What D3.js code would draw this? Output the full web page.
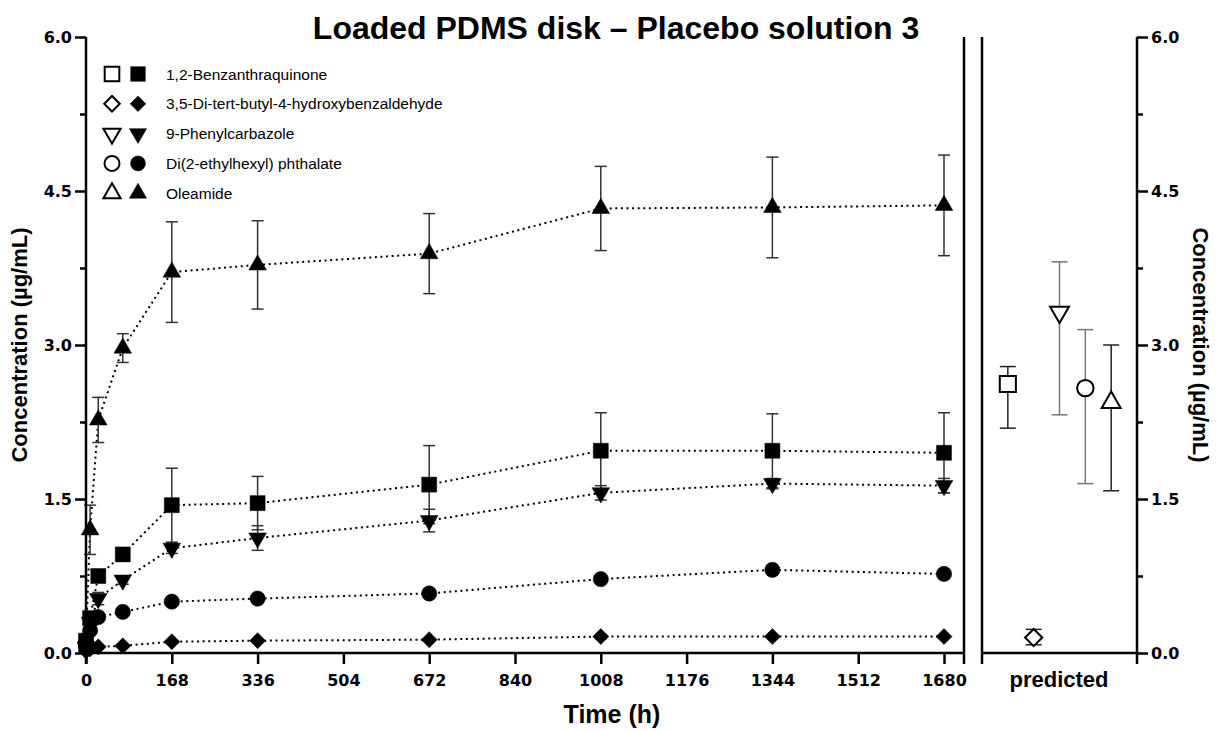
<!DOCTYPE html>
<html>
<head>
<meta charset="utf-8">
<script src="https://cdn.jsdelivr.net/npm/d3@7"></script>
<style>
  html, body { margin: 0; padding: 0; background: #fff; }
  svg { display: block; font-family: "Liberation Sans", Arial, sans-serif; }
</style>
</head>
<body>
<svg id="chart" width="1218" height="731"></svg>
<script>
// Release of migrants from a loaded PDMS disk into placebo solution 3
const times = [0, 8, 24, 72, 168, 336, 672, 1008, 1344, 1680];
const xTicks = [0, 168, 336, 504, 672, 840, 1008, 1176, 1344, 1512, 1680];
const yTicks = [0, 1.5, 3.0, 4.5, 6.0];
const yMinorTicks = [0.75, 2.25, 3.75, 5.25];

const compounds = [
  "1,2-Benzanthraquinone",
  "3,5-Di-tert-butyl-4-hydroxybenzaldehyde",
  "9-Phenylcarbazole",
  "Di(2-ethylhexyl) phthalate",
  "Oleamide"
];
const symbols = ["square", "diamond", "down", "circle", "up"];

// measured concentration (µg/mL), mean and SD per sampling time
const benzMean = [0.12, 0.34, 0.75, 0.96, 1.44, 1.46, 1.64, 1.97, 1.97, 1.95];
const benzSd   = [0.02, 0.05, 0.04, 0.05, 0.36, 0.26, 0.38, 0.37, 0.36, 0.39];
const dtbMean  = [0.02, 0.04, 0.06, 0.07, 0.11, 0.12, 0.13, 0.16, 0.16, 0.16];
const dtbSd    = [0.01, 0.01, 0.01, 0.01, 0.01, 0.01, 0.01, 0.02, 0.01, 0.01];
const pcMean   = [0.05, 0.30, 0.53, 0.71, 1.02, 1.12, 1.29, 1.56, 1.65, 1.63];
const pcSd     = [0.01, 0.04, 0.06, 0.04, 0.05, 0.12, 0.11, 0.07, 0.05, 0.07];
const dehpMean = [0.05, 0.22, 0.35, 0.40, 0.50, 0.53, 0.58, 0.72, 0.81, 0.77];
const dehpSd   = [0.01, 0.02, 0.02, 0.02, 0.02, 0.02, 0.02, 0.03, 0.02, 0.02];
const oleMean  = [0.15, 1.20, 2.27, 2.97, 3.71, 3.78, 3.89, 4.33, 4.34, 4.36];
const oleSd    = [0.03, 0.24, 0.22, 0.14, 0.49, 0.43, 0.39, 0.41, 0.49, 0.49];

// predicted concentration (µg/mL) with its range
const predMean = [2.62, 0.15, 3.32, 2.58, 2.44];
const predLow  = [2.19, 0.08, 2.32, 1.65, 1.58];
const predHigh = [2.79, 0.23, 3.81, 3.15, 3.00];
const predBarColor = ["#222", "#222", "#777", "#777", "#222"];

const means = [benzMean, dtbMean, pcMean, dehpMean, oleMean];
const sds = [benzSd, dtbSd, pcSd, dehpSd, oleSd];

const svg = d3.select("#chart");

const y = d3.scaleLinear().domain([0, 6]).range([653, 37]);
const x = d3.scaleLinear().domain([0, 1680]).range([86, 944]);
const xp = d3.scalePoint().domain(compounds).range([982, 1137]).padding(1);

const AXW = 2.5;
const TICK_FONT = "DejaVu Sans, sans-serif";

// marker path generator
function markerPath(kind, scale = 1) {
  switch (kind) {
    case "square": return d3.symbol(d3.symbolSquare, 225 * scale)();
    case "diamond": return d3.symbol(d3.symbolSquare, 128 * scale)();
    case "circle": return d3.symbol(d3.symbolCircle, 185 * scale)();
    case "up":
    case "down": return d3.symbol(d3.symbolTriangle, 135 * scale)();
  }
}
function markerRotate(kind) {
  if (kind === "diamond") return 45;
  if (kind === "down") return 180;
  return 0;
}
function drawMarker(g, kind, cx, cy, filled, scale = 1) {
  g.append("path")
    .attr("d", markerPath(kind, scale))
    .attr("transform", `translate(${cx},${cy}) rotate(${markerRotate(kind)})`)
    .attr("fill", filled ? "#000" : "#fff")
    .attr("stroke", "#000")
    .attr("stroke-width", filled ? 0.5 : 2);
}

// ---- title
svg.append("text")
  .attr("x", 616).attr("y", 39)
  .attr("text-anchor", "middle")
  .attr("font-weight", "bold")
  .attr("font-size", 32)
  .text("Loaded PDMS disk \u2013 Placebo solution 3");

// ---- left panel: data
const plot = svg.append("g");
const line = d3.line().x(d => x(d[0])).y(d => y(d[1]));

means.forEach((m, i) => {
  const pts = times.map((t, k) => [t, m[k]]);
  plot.append("path")
    .attr("d", line(pts))
    .attr("fill", "none")
    .attr("stroke", "#000")
    .attr("stroke-width", 2)
    .attr("stroke-dasharray", "2,3.6");
});

means.forEach((m, i) => {
  times.forEach((t, k) => {
    const cx = x(t), hi = y(m[k] + sds[i][k]), lo = y(m[k] - sds[i][k]);
    const g = plot.append("g").attr("stroke", "#333").attr("stroke-width", 1.5);
    g.append("line").attr("x1", cx).attr("x2", cx).attr("y1", hi).attr("y2", lo);
    g.append("line").attr("x1", cx - 6).attr("x2", cx + 6).attr("y1", hi).attr("y2", hi);
    g.append("line").attr("x1", cx - 6).attr("x2", cx + 6).attr("y1", lo).attr("y2", lo);
  });
});

means.forEach((m, i) => {
  times.forEach((t, k) => drawMarker(plot, symbols[i], x(t), y(m[k]), true));
});

// ---- left panel: axes
const yAxisL = svg.append("g").attr("transform", "translate(86,0)")
  .call(d3.axisLeft(y).tickValues(yTicks).tickFormat(d3.format(".1f")).tickSize(11).tickPadding(3));
const yMinorL = svg.append("g").attr("transform", "translate(86,0)")
  .call(d3.axisLeft(y).tickValues(yMinorTicks).tickFormat("").tickSize(6));
const xAxis = svg.append("g").attr("transform", "translate(0,653)")
  .call(d3.axisBottom(x).tickValues(xTicks).tickFormat(d3.format("d")).tickSize(11).tickPadding(11));

function styleAxis(a) {
  a.select(".domain").remove();
  a.selectAll(".tick line").attr("stroke", "#000").attr("stroke-width", AXW);
  a.selectAll(".tick text").attr("fill", "#000").attr("font-weight", "bold")
    .attr("font-size", 16).attr("font-family", TICK_FONT);
}
[yAxisL, yMinorL, xAxis].forEach(styleAxis);

// axis lines and panel frame
const frame = svg.append("g").attr("stroke", "#000").attr("stroke-width", AXW).attr("fill", "none");
frame.append("line").attr("x1", 86).attr("x2", 86).attr("y1", y(6)).attr("y2", 664);
frame.append("line").attr("x1", 86).attr("x2", 964).attr("y1", y(0)).attr("y2", y(0));
frame.append("line").attr("x1", 964).attr("x2", 964).attr("y1", y(6)).attr("y2", 664);

svg.append("text")
  .attr("transform", `translate(27,${y(3)}) rotate(-90)`)
  .attr("text-anchor", "middle")
  .attr("font-weight", "bold").attr("font-size", 22)
  .text("Concentration (\u00b5g/mL)");

svg.append("text")
  .attr("x", 612).attr("y", 723)
  .attr("text-anchor", "middle")
  .attr("font-weight", "bold").attr("font-size", 25)
  .text("Time (h)");

// ---- legend
const legend = svg.append("g");
compounds.forEach((name, i) => {
  const ly = 74 + i * 29.8;
  drawMarker(legend, symbols[i], 112, ly, false, 0.95);
  drawMarker(legend, symbols[i], 138, ly, true, 0.95);
  legend.append("text")
    .attr("x", 166).attr("y", ly + 5.5)
    .attr("font-size", 15.5)
    .text(name);
});

// ---- right panel: predicted values
const right = svg.append("g");
right.append("line").attr("x1", 982).attr("x2", 982).attr("y1", y(6)).attr("y2", 664)
  .attr("stroke", "#000").attr("stroke-width", AXW);
right.append("line").attr("x1", 982).attr("x2", 1137).attr("y1", y(0)).attr("y2", y(0))
  .attr("stroke", "#000").attr("stroke-width", AXW);
right.append("line").attr("x1", 1137).attr("x2", 1137).attr("y1", y(6)).attr("y2", 664)
  .attr("stroke", "#000").attr("stroke-width", AXW);

compounds.forEach((c, i) => {
  const cx = xp(c), hi = y(predHigh[i]), lo = y(predLow[i]);
  const g = right.append("g").attr("stroke", predBarColor[i]).attr("stroke-width", 1.5);
  g.append("line").attr("x1", cx).attr("x2", cx).attr("y1", hi).attr("y2", lo);
  g.append("line").attr("x1", cx - 8).attr("x2", cx + 8).attr("y1", hi).attr("y2", hi);
  g.append("line").attr("x1", cx - 8).attr("x2", cx + 8).attr("y1", lo).attr("y2", lo);
});
compounds.forEach((c, i) => drawMarker(right, symbols[i], xp(c), y(predMean[i]), false, 1.15));

const yAxisR = svg.append("g").attr("transform", "translate(1137,0)")
  .call(d3.axisRight(y).tickValues(yTicks).tickFormat(d3.format(".1f")).tickSize(11).tickPadding(3));
const yMinorR = svg.append("g").attr("transform", "translate(1137,0)")
  .call(d3.axisRight(y).tickValues(yMinorTicks).tickFormat("").tickSize(6));
[yAxisR, yMinorR].forEach(styleAxis);

svg.append("text")
  .attr("x", 1059).attr("y", 687)
  .attr("text-anchor", "middle")
  .attr("font-weight", "bold").attr("font-size", 22)
  .text("predicted");

svg.append("text")
  .attr("transform", `translate(1193,${y(3)}) rotate(90)`)
  .attr("text-anchor", "middle")
  .attr("font-weight", "bold").attr("font-size", 22)
  .text("Concentration (\u00b5g/mL)");
</script>
</body>
</html>
